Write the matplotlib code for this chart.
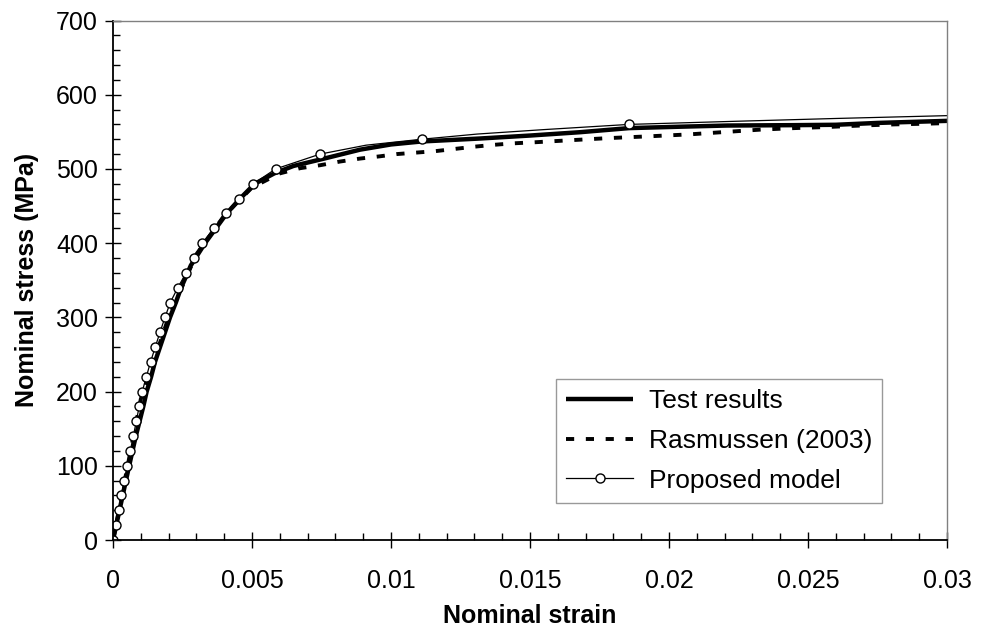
import matplotlib
matplotlib.use("Agg")
import matplotlib.pyplot as plt
from matplotlib.ticker import MultipleLocator

plt.rcParams["font.family"] = ["Liberation Sans", "DejaVu Sans"]

# test curve (thick line)
test_strain = [0, 0.00058, 0.00082, 0.00109, 0.00121, 0.00137, 0.00151, 0.00169, 0.00187,
               0.00205, 0.00226, 0.00245, 0.0028, 0.00331, 0.00409, 0.00457, 0.0051,
               0.0058, 0.00649, 0.0076, 0.00889, 0.0100, 0.0111, 0.0132, 0.0150, 0.0168,
               0.01856, 0.0205, 0.0221, 0.0245, 0.026, 0.0275, 0.0302]
test_stress = [0, 100, 140, 180, 200, 220, 240, 260, 280,
               300, 320, 340, 370, 400, 440, 460, 480,
               494, 504, 514, 526, 533, 537, 541, 545, 549.5,
               555, 557, 558.5, 559, 559.5, 562, 565]

# Rasmussen (2003) model (dashed)
ras_strain = [0, 0.001, 0.002, 0.003, 0.004, 0.005, 0.006, 0.00673, 0.00745, 0.00817,
              0.00889, 0.0096, 0.0102, 0.0109, 0.0116, 0.0123, 0.0130, 0.0137, 0.0144,
              0.0152, 0.0159, 0.0166, 0.0178, 0.0193, 0.0207, 0.0221, 0.0233, 0.0245,
              0.0257, 0.0269, 0.0281, 0.0293, 0.0302]
ras_stress = [0, 190, 300, 385, 437, 475, 494, 501, 505, 510,
              514, 517, 520, 522, 524, 527, 530, 532.5, 534.5,
              536, 537.5, 539, 541.5, 544, 546.5, 550, 553, 555,
              556.5, 558.5, 560, 561, 562]

# proposed model (thin line with circles)
model_strain = [0, 0.0001, 0.0002, 0.0003, 0.0004, 0.00052, 0.00062, 0.00073, 0.00084,
                0.00094, 0.00105, 0.0012, 0.00135, 0.00152, 0.00169, 0.00187, 0.00206,
                0.00233, 0.00263, 0.00291, 0.00321, 0.00363, 0.00405, 0.00453, 0.00505,
                0.00585, 0.00745, 0.0091, 0.0111, 0.0131, 0.0155, 0.01856, 0.0222,
                0.026, 0.0302]
model_stress = [0, 20, 40, 60, 80, 100, 120, 140, 160,
                180, 200, 220, 240, 260, 280, 300, 320,
                340, 360, 380, 400, 420, 440, 460, 480,
                500, 520, 532, 540, 547, 553, 560, 564,
                568, 572]
model_marks = [i for i, s in enumerate(model_stress) if s % 20 == 0]

fig = plt.figure(figsize=(9.81, 6.35), dpi=100)
ax = fig.add_axes([0.1152, 0.1496, 0.8501, 0.8181])

ax.plot(test_strain, test_stress, color="black", lw=3.2, label="Test results",
        solid_capstyle="butt")
ax.plot(ras_strain, ras_stress, color="black", lw=2.8, linestyle=(0, (2.1, 3.0)),
        label="Rasmussen (2003)")
ax.plot(model_strain, model_stress, color="black", lw=0.9, marker="o", markersize=6.5,
        markerfacecolor="white", markeredgecolor="black", markeredgewidth=1.0,
        markevery=model_marks, label="Proposed model")

ax.set_xlim(0, 0.03)
ax.set_ylim(0, 700)
ax.xaxis.set_major_locator(MultipleLocator(0.005))
ax.xaxis.set_minor_locator(MultipleLocator(0.001))
ax.yaxis.set_major_locator(MultipleLocator(100))
ax.yaxis.set_minor_locator(MultipleLocator(20))
ax.set_xticks([0, 0.005, 0.01, 0.015, 0.02, 0.025, 0.03])
ax.set_xticklabels(["0", "0.005", "0.01", "0.015", "0.02", "0.025", "0.03"])

ax.tick_params(which="major", direction="inout", length=11.5, width=1.0,
               labelsize=18, pad=5)
ax.tick_params(which="minor", direction="in", length=5, width=1.0)
ax.tick_params(axis="x", which="major", pad=15)

for side in ["left", "bottom"]:
    ax.spines[side].set_color("black")
    ax.spines[side].set_linewidth(1.3)
for side in ["top", "right"]:
    ax.spines[side].set_color("#808080")
    ax.spines[side].set_linewidth(1.0)

ax.set_xlabel("Nominal strain", fontsize=18, fontweight="bold", labelpad=8)
ax.set_ylabel("Nominal stress (MPa)", fontsize=18, fontweight="bold", labelpad=12)

leg = ax.legend(loc="upper left", bbox_to_anchor=(0.531, 0.31), borderaxespad=0,
                fontsize=19, frameon=True, fancybox=False, handlelength=2.55,
                handletextpad=0.6, labelspacing=0.6, borderpad=0.38)
leg.get_frame().set_edgecolor("#808080")
leg.get_frame().set_linewidth(1.0)

fig.savefig("out.png", dpi=100)
